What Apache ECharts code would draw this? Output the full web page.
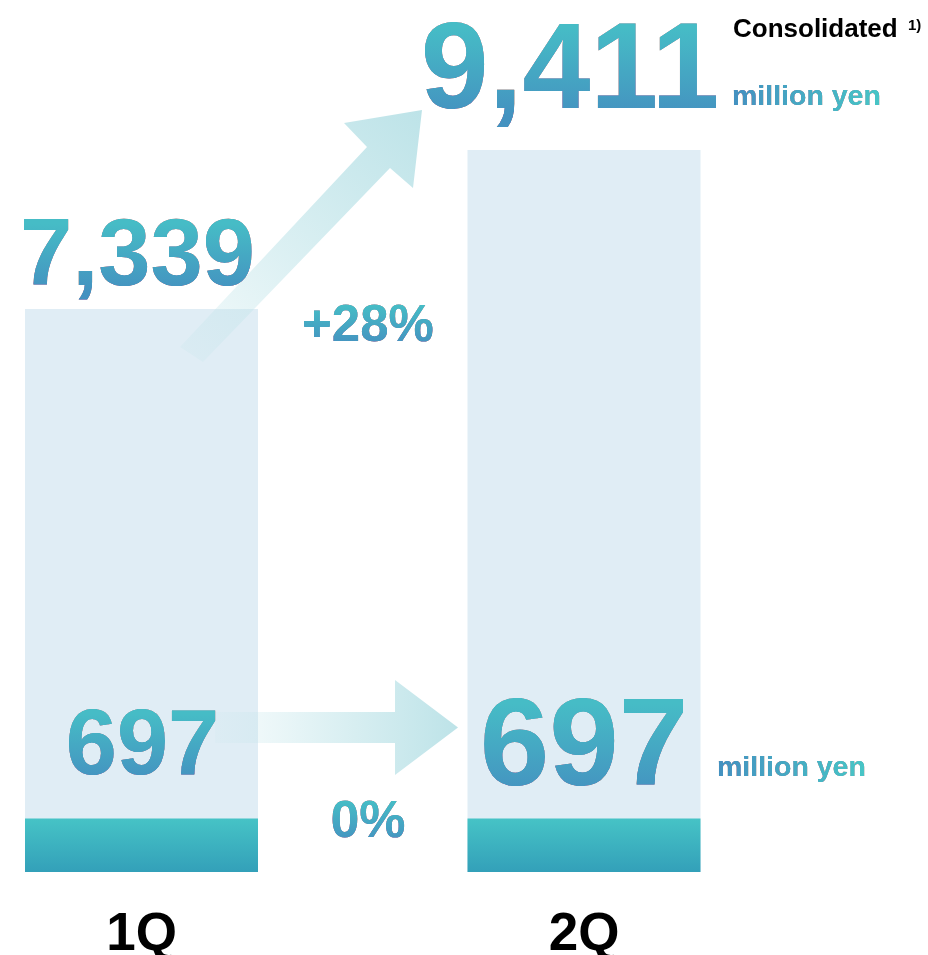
<!DOCTYPE html>
<html><head><meta charset="utf-8">
<script src="https://cdn.jsdelivr.net/npm/echarts@6/dist/echarts.min.js"></script>
<style>html,body{margin:0;padding:0;background:#fff}#c{width:928px;height:955px}</style>
</head><body><div id="c"></div>
<script>
// ---- data ----
const categories = ['1Q', '2Q'];
const totalValues = [7339, 9411];
const baseValues = [697, 697];
const totalChangeLabel = '+28%';
const baseChangeLabel = '0%';
const unitLabel = 'million yen';
const scopeLabel = 'Consolidated';
const noteMark = '1)';

// ---- styles ----
const FONT = '"Liberation Sans", Arial, Helvetica, sans-serif';
const G = echarts.graphic;
const TOP_C = '#46BCC6', BOT_C = '#4492C0';      // vertical gradient of the figures
const UNIT_L = '#4490C0', UNIT_R = '#48C6C6';    // horizontal gradient of "million yen"
const INK = '#000000';                            // drawn dark, then coloured by a lighten overlay
const totalLabelStyle = [
  { fontSize: 94, distance: 3, offset: [-4, 0] },
  { fontSize: 122, distance: 15, offset: [-14, 0] }
];
const baseLabelStyle = [
  { fontSize: 92, distance: 24, offset: [1, 0] },
  { fontSize: 125, distance: 5, offset: [0, 0] }
];
const fmt = v => Number(v).toLocaleString('en-US');

function labelItems(values, styles) {
  return values.map((v, i) => ({
    value: v,
    label: {
      show: true, position: 'top', formatter: p => fmt(p.value),
      fontFamily: FONT, fontWeight: 'bold', color: INK,
      fontSize: styles[i].fontSize, distance: styles[i].distance, offset: styles[i].offset
    }
  }));
}

const chart = echarts.init(document.getElementById('c'), null, { renderer: 'canvas' });

const arrowFill = new G.LinearGradient(0, 1, 1, 0, [
  { offset: 0, color: 'rgba(189,227,232,0.15)' },
  { offset: 0.45, color: 'rgba(189,227,232,0.55)' },
  { offset: 1, color: 'rgba(189,227,232,1)' }]);
const hArrowFill = new G.LinearGradient(0, 0, 1, 0, [
  { offset: 0, color: 'rgba(189,227,232,0.1)' },
  { offset: 0.3, color: 'rgba(189,227,232,0.35)' },
  { offset: 1, color: 'rgba(189,227,232,1)' }]);

function txt(text, x, y, size, fill, align) {
  return {
    type: 'text', z: 4, silent: true,
    style: {
      text, x, y, fill, font: 'bold ' + size + 'px ' + FONT,
      textAlign: align || 'left', align: align || 'left',
      textVerticalAlign: 'top', verticalAlign: 'top'
    }
  };
}
function tint(x, y, w, h, c0, c1, s0, s1, horiz) {
  return {
    type: 'rect', z: 10, silent: true, shape: { x, y, width: w, height: h },
    style: {
      fill: new G.LinearGradient(0, 0, horiz ? 1 : 0, horiz ? 0 : 1,
        [{ offset: s0, color: c0 }, { offset: s1, color: c1 }]),
      blend: 'lighten'
    }
  };
}

chart.setOption({
  animation: false,
  backgroundColor: '#ffffff',
  grid: { left: -79.75, right: 122.75, top: 28.15, bottom: 83, outerBoundsMode: 'none', containLabel: false },
  xAxis: {
    type: 'category', data: categories,
    axisLine: { show: false }, axisTick: { show: false },
    axisLabel: { margin: 37, fontSize: 53, fontWeight: 'bold', fontFamily: FONT, color: '#000' }
  },
  yAxis: { type: 'value', min: 0, max: 11000, show: false, splitLine: { show: false } },
  series: [
    { name: 'total', type: 'bar', z: 1, silent: true, data: totalValues, barWidth: 233, barGap: '-100%',
      itemStyle: { color: '#E0EDF5' } },
    { name: 'base', type: 'bar', z: 1, silent: true, data: baseValues, barWidth: 233, barGap: '-100%',
      itemStyle: { color: new G.LinearGradient(0, 0, 0, 1, [
        { offset: 0, color: '#46C3C6' }, { offset: 1, color: '#33A0B9' }]) } },
    { name: 'totalLabel', type: 'bar', z: 3, silent: true, data: labelItems(totalValues, totalLabelStyle),
      barWidth: 233, barGap: '-100%', itemStyle: { color: 'rgba(0,0,0,0)' } },
    { name: 'baseLabel', type: 'bar', z: 3, silent: true, data: labelItems(baseValues, baseLabelStyle),
      barWidth: 233, barGap: '-100%', itemStyle: { color: 'rgba(0,0,0,0)' } }
  ]
});

// colour overlays for the figures, positioned from the library's own scale
const overlays = [];
function addLabelTint(values, styles, widthFactor) {
  values.forEach((v, i) => {
    const p = chart.convertToPixel({ gridIndex: 0 }, [i, v]);
    const st = styles[i], F = st.fontSize;
    const bottom = p[1] - st.distance, cx = p[0] + st.offset[0];
    overlays.push(tint(cx - widthFactor * F, bottom - F, 2 * widthFactor * F, F, TOP_C, BOT_C, 0.12, 0.85));
  });
}
addLabelTint(totalValues, totalLabelStyle, 1.32);
addLabelTint(baseValues, baseLabelStyle, 0.9);

chart.setOption({
  graphic: [
    { type: 'polygon', z: 2, silent: true,
      shape: { points: [[180, 347], [367, 147], [344, 123], [422, 110], [413, 188], [390, 168], [203, 362]] },
      style: { fill: arrowFill } },
    { type: 'polygon', z: 2, silent: true,
      shape: { points: [[215, 712], [395, 712], [395, 680], [458, 727.5], [395, 775], [395, 743], [215, 743]] },
      style: { fill: hArrowFill } },
    txt(scopeLabel, 733, 17, 26, '#000'),
    txt(noteMark, 908, 18, 15, '#000'),
    txt(unitLabel, 732, 83, 28.5, INK),
    txt(unitLabel, 717, 754, 28.5, INK),
    txt(totalChangeLabel, 368, 301, 51, INK, 'center'),
    txt(baseChangeLabel, 368, 797, 52, INK, 'center'),
    tint(731, 80, 152, 40, UNIT_L, UNIT_R, 0, 1, true),
    tint(716, 751, 152, 40, UNIT_L, UNIT_R, 0, 1, true),
    tint(296, 299, 144, 54, TOP_C, BOT_C, 0.12, 0.85),
    tint(324, 795, 88, 56, TOP_C, BOT_C, 0.12, 0.85)
  ].concat(overlays)
});
</script>
</body></html>
